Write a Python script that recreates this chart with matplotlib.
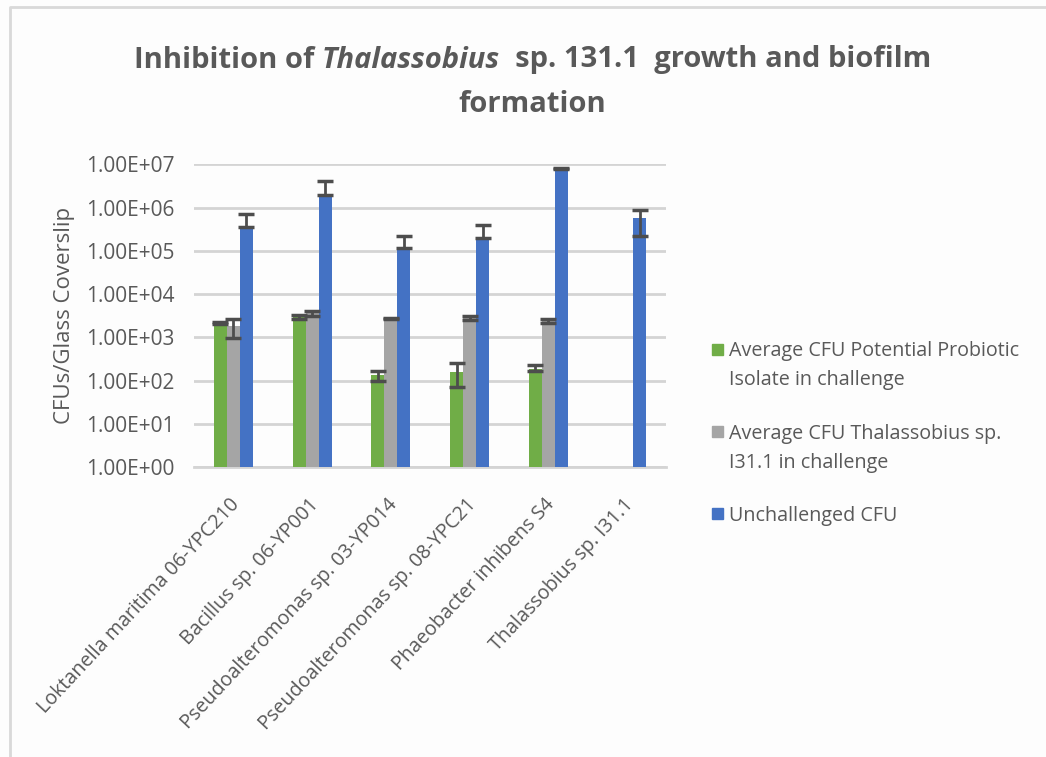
import numpy as np
import matplotlib
matplotlib.use("Agg")
import matplotlib.pyplot as plt
from matplotlib.ticker import LogLocator, FixedLocator
from matplotlib.patches import Rectangle
from matplotlib.lines import Line2D
from matplotlib.transforms import ScaledTranslation

# data
isolates = ["Loktanella maritima 06-YPC210", "Bacillus sp. 06-YP001",
            "Pseudoalteromonas sp. 03-YP014", "Pseudoalteromonas sp. 08-YPC21",
            "Phaeobacter inhibens S4", "Thalassobius sp. I31.1"]
series_names = ["Average CFU Potential Probiotic\nIsolate in challenge",
                "Average CFU Thalassobius sp.\nI31.1 in challenge",
                "Unchallenged CFU"]
probiotic = [2100, 2900, 130, 160, 180, np.nan]
probiotic_lo = [100, 300, 30, 90, 10, 0]
probiotic_hi = [100, 300, 35, 90, 55, 0]
thal = [1800, 3600, 2700, 2800, 2400, np.nan]
thal_lo = [850, 500, 100, 300, 300, 0]
thal_hi = [850, 500, 100, 300, 300, 0]
unchal = [3.6e5, 1.95e6, 1.15e5, 2.0e5, 7.8e6, 5.6e5]
unchal_lo = [0, 0, 0, 0, 0, 3.4e5]
unchal_hi = [3.3e5, 2.05e6, 1.1e5, 1.9e5, 4e5, 3.4e5]

colors = ["#70ad47", "#a5a5a5", "#4472c4"]
txt = "#595959"
plt.rcParams['font.family'] = ["Open Sans", "DejaVu Sans"]

fig = plt.figure(figsize=(10.46, 7.57), dpi=100)
fig.patch.set_facecolor("#fdfdfd")
ax = fig.add_axes([0.1855, 0.383, 0.4515, 0.4])
ax.set_facecolor("#fdfdfd")

x = np.arange(len(isolates))
w = 0.165
vals = [probiotic, thal, unchal]
los = [probiotic_lo, thal_lo, unchal_lo]
his = [probiotic_hi, thal_hi, unchal_hi]
for i in range(3):
    xi = x + (i - 1) * w
    ax.bar(xi, vals[i], w, bottom=1, color=colors[i], zorder=3)
    ax.errorbar(xi, vals[i], yerr=[los[i], his[i]], fmt="none", ecolor="#4d4d4d",
                elinewidth=2, capsize=5.5, capthick=2.5, zorder=4)

ax.set_yscale("log")
ax.set_ylim(1, 1e7)
ax.set_xlim(-0.5, 5.5)
ax.yaxis.set_major_locator(FixedLocator([10.0 ** k for k in range(8)]))
ax.yaxis.set_minor_locator(LogLocator(base=10, subs=np.arange(2, 10)))
ax.set_yticklabels(["1.00E+%02d" % k for k in range(8)])
ax.grid(True, which="minor", axis="y", color="#eeeeee", lw=1.2, zorder=0)
ax.grid(True, which="major", axis="y", color="#d4d4d4", lw=2, zorder=1)
for s in ["left", "right", "top"]:
    ax.spines[s].set_visible(False)
ax.spines["bottom"].set_color("#d4d4d4")
ax.spines["bottom"].set_linewidth(2)
ax.tick_params(axis="both", which="both", length=0, colors=txt)
ax.tick_params(axis="y", pad=14, labelsize=15)
ax.set_xticks(x)
ax.set_xticklabels(isolates, rotation=47, ha="right", rotation_mode="anchor",
                   fontsize=14.2)
ax.tick_params(axis="x", pad=9)
shift = ScaledTranslation(-0.04, -0.15, fig.dpi_scale_trans)
for lbl in ax.get_xticklabels():
    lbl.set_transform(lbl.get_transform() + shift)
ax.set_ylabel("CFUs/Glass Coverslip", color=txt, fontsize=16)
ax.yaxis.set_label_coords(-0.252, 0.5)

# legend, marker lined up with first text line as in the original
leg_y = [349, 431.5, 513.5]
for name, c, yp in zip(series_names, colors, leg_y):
    yf = 1 - yp / 757
    fig.patches.append(Rectangle((712 / 1046, yf - 5.5 / 757), 11 / 1046, 11 / 757,
                                 transform=fig.transFigure, color=c))
    fig.text(729 / 1046, yf + 8 / 757, name, fontsize=14.2, color=txt, va="top",
             ha="left", linespacing=1.62)

# title with italic genus name
fs = 21
parts = [("Inhibition of ", "normal"), ("Thalassobius", "italic"),
         ("  sp. 131.1  growth and biofilm", "normal")]
ty = 1 - 60 / 757
objs = [fig.text(0, ty, p, style=st, fontsize=fs, fontweight="bold", color=txt,
                 va="center", ha="left") for p, st in parts]
fig.canvas.draw()
r = fig.canvas.get_renderer()
widths = [o.get_window_extent(r).width / fig.bbox.width for o in objs]
xs = 0.509 - sum(widths) / 2
for o, wd in zip(objs, widths):
    o.set_x(xs)
    xs += wd
fig.text(0.509, 1 - 104 / 757, "formation", fontsize=fs, fontweight="bold",
         color=txt, ha="center", va="center")

# faint frame on the left and top edge
fig.lines.append(Line2D([10 / 1046, 10 / 1046, 1.0], [0.0, 1 - 7 / 757, 1 - 7 / 757],
                        transform=fig.transFigure, color="#d9d9d9", lw=2))

fig.savefig("out.png", dpi=100, facecolor=fig.get_facecolor())
